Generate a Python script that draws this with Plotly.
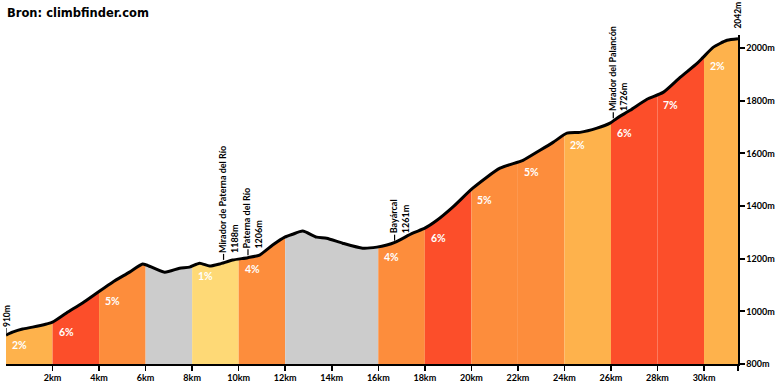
import numpy as np
import plotly.graph_objects as go

# ---- data ----
dist_km = [0, 0.28, 0.71, 1.14, 1.74, 2.0, 2.6, 3.29, 3.89, 4.58, 5.31, 5.87, 6.04, 6.82,
           7.46, 7.89, 8.32, 8.75, 9.18, 9.74, 10.39, 10.9, 11.46, 11.98, 12.32, 12.75,
           13.35, 13.78, 14.47, 15.33, 15.94, 16.37, 16.71, 17.48, 18.0, 18.52, 19.2,
           20.06, 21.23, 22.22, 22.95, 23.51, 24.11, 24.67, 25.4, 25.96, 26.26, 26.82,
           27.55, 28.24, 28.97, 29.7, 29.96, 30.39, 30.99, 31.46]
elev_m = [910, 921, 933, 940, 952, 959, 994, 1032, 1069, 1111, 1149, 1180, 1176, 1149,
          1164, 1168, 1183, 1172, 1180, 1195, 1204, 1214, 1252, 1282, 1293, 1305,
          1282, 1278, 1259, 1240, 1244, 1252, 1262, 1297, 1316, 1346, 1396,
          1468, 1544, 1574, 1612, 1642, 1677, 1680, 1696, 1715, 1734, 1764,
          1806, 1832, 1889, 1942, 1965, 2003, 2030, 2036]

seg_start = [0, 2, 4, 6, 8, 10, 12, 16, 18, 20, 22, 24, 26, 28, 30]
seg_grade = [2, 6, 5, None, 1, 4, None, 4, 6, 5, 5, 2, 6, 7, 2]

poi_name = ["Mirador de Paterna del Río", "Paterna del Río", "Bayárcal", "Mirador del Palancón"]
poi_km = [9.35, 10.4, 16.7, 26.1]
poi_elev = [1188, 1206, 1261, 1726]

start_elev = 910
end_elev = 2042
total_km = 31.46

x_tick_vals = [2, 4, 6, 8, 10, 12, 14, 16, 18, 20, 22, 24, 26, 28, 30]
x_tick_text = ["2km", "4km", "6km", "8km", "10km", "12km", "14km", "16km",
               "18km", "20km", "22km", "24km", "26km", "28km", "30km"]
y_tick_vals = [800, 1000, 1200, 1400, 1600, 1800, 2000]
y_tick_text = ["800m", "1000m", "1200m", "1400m", "1600m", "1800m", "2000m"]

title_text = "Bron: climbfinder.com"


def grade_color(g):
    if g is None:
        return "#CCCCCC"
    if g <= 1:
        return "#FED976"
    if g <= 3:
        return "#FEB24C"
    if g <= 5:
        return "#FD8D3C"
    return "#FC4E2A"


FONT = "Lato"
xs = np.array(dist_km)
ys = np.array(elev_m)

fig = go.Figure()

seg_end = seg_start[1:] + [total_km]
for s, e, g in zip(seg_start, seg_end, seg_grade):
    inner = (xs > s) & (xs < e)
    sx = np.concatenate([[s], xs[inner], [e]])
    sy = np.concatenate([[np.interp(s, xs, ys)], ys[inner], [np.interp(e, xs, ys)]])
    fig.add_trace(go.Scatter(
        x=sx, y=sy, mode="lines", fill="tozeroy",
        fillcolor=grade_color(g), line=dict(width=0, shape="spline", smoothing=0.6),
        hoverinfo="skip", showlegend=False))

fig.add_trace(go.Scatter(
    x=dist_km, y=elev_m, mode="lines",
    line=dict(color="black", width=3, shape="spline", smoothing=0.6),
    hoverinfo="skip", showlegend=False))

annotations = []
for s, g in zip(seg_start, seg_grade):
    if g is None:
        continue
    annotations.append(dict(
        x=s, y=float(np.interp(s, xs, ys)), xref="x", yref="y",
        text=f"{g}%", showarrow=False, xanchor="left", yanchor="middle",
        xshift=4, yshift=-10,
        font=dict(family=FONT, size=10.5, color="white", weight="bold")))

shapes = []
for name, k, el in zip(poi_name, poi_km, poi_elev):
    shapes.append(dict(type="line", xref="x", yref="y", x0=k, x1=k,
                       ysizemode="pixel", yanchor=el, y0=2, y1=8,
                       line=dict(color="black", width=1.2)))
    annotations.append(dict(
        x=k, y=el, xref="x", yref="y", text=f"{name}<br>{el}m",
        textangle=-90, align="left", showarrow=False,
        xanchor="center", yanchor="bottom", xshift=5, yshift=7,
        font=dict(family=FONT, size=9, color="black", weight="bold")))

for k, el, anchor_shift in [(0, start_elev, 1), (total_km, end_elev, 0)]:
    shapes.append(dict(type="line", xref="x", yref="y", x0=k, x1=k,
                       ysizemode="pixel", yanchor=el, y0=2, y1=7,
                       line=dict(color="black", width=1.2)))
    annotations.append(dict(
        x=k, y=el, xref="x", yref="y", text=f"{el}m",
        textangle=-90, showarrow=False,
        xanchor="center", yanchor="bottom", xshift=anchor_shift, yshift=6,
        font=dict(family=FONT, size=8.5, color="black", weight="bold")))

fig.update_layout(
    width=780, height=390,
    margin=dict(l=6, r=42, t=35, b=26),
    paper_bgcolor="white", plot_bgcolor="white",
    showlegend=False,
    title=dict(text=title_text, x=7 / 780, y=1 - 13 / 390, xref="container", yref="container",
               xanchor="left", yanchor="middle",
               font=dict(family="DejaVu Sans", size=11.5, color="black", weight="bold")),
    annotations=annotations,
    shapes=shapes,
    xaxis=dict(range=[0, total_km], showgrid=False, zeroline=False,
               showline=True, linecolor="black", linewidth=1.5,
               ticks="outside", ticklen=5, tickwidth=1.5, tickcolor="black",
               tickvals=x_tick_vals + [total_km], ticktext=x_tick_text + [""],
               tickfont=dict(family=FONT, size=9, color="black", weight="bold")),
    yaxis=dict(range=[800, 2050], side="right", showgrid=False, zeroline=False,
               showline=True, linecolor="black", linewidth=1.5,
               ticks="outside", ticklen=5, tickwidth=2, tickcolor="black",
               tickvals=y_tick_vals, ticktext=y_tick_text,
               tickfont=dict(family=FONT, size=9, color="black", weight="bold")),
)

fig.write_html("out.html", config={"displayModeBar": False, "staticPlot": True},
               post_script="document.body.style.margin='0';document.body.style.overflow='hidden';")
